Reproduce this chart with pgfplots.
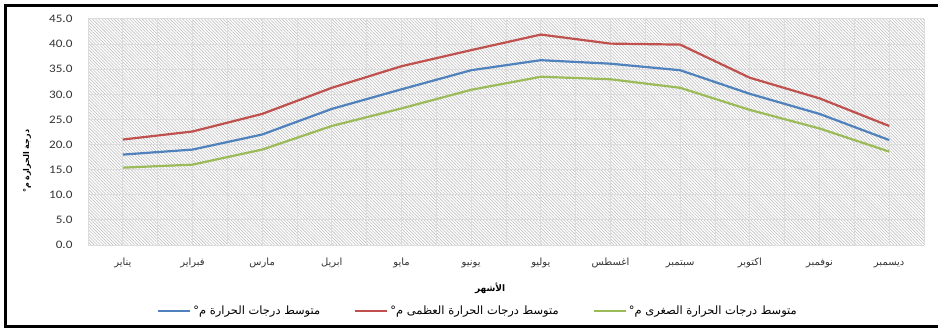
\documentclass[border=0pt]{standalone}
\usepackage{fontspec}
\setmainfont{Carlito}
\newfontfamily\ticknumfont[FakeStretch=1.15]{Carlito}
\newfontfamily\arabicfont[Script=Arabic]{DejaVu Sans}
\TeXXeTstate=1
\usepackage{pgfplots}
\pgfplotsset{compat=1.18}
\usetikzlibrary{patterns.meta}

\definecolor{meanblue}{HTML}{4F81BD}
\definecolor{maxred}{HTML}{C0504D}
\definecolor{mingreen}{HTML}{9BBB59}
\definecolor{gridgray}{HTML}{DCDCDC}
\definecolor{labelgray}{HTML}{333333}

% month index, mean, max, min temperature (deg C)
\pgfplotstableread{
m  mean  tmax  tmin
1  18.0  21.0  15.4
2  19.0  22.6  16.0
3  22.0  26.1  19.0
4  27.1  31.3  23.7
5  31.0  35.6  27.2
6  34.8  38.8  30.9
7  36.8  41.9  33.5
8  36.1  40.1  33.0
9  34.8  39.9  31.3
10 30.1  33.3  26.9
11 26.1  29.2  23.2
12 20.9  23.7  18.6
}\temps

\begin{document}
\begin{tikzpicture}
\useasboundingbox (0,0) rectangle (938bp,328bp);
\begin{axis}[
  at={(88bp,83bp)}, anchor=south west,
  scale only axis, width=836bp, height=226bp,
  xmin=0.5, xmax=12.5, ymin=0, ymax=45,
  xtick={1,...,12}, minor xtick={0.5,1.5,...,12.5},
  ytick={0,5,...,45},
  xticklabels={{\arabicfont\beginR يناير\endR},{\arabicfont\beginR فبراير\endR},{\arabicfont\beginR مارس\endR},{\arabicfont\beginR ابريل\endR},{\arabicfont\beginR مايو\endR},{\arabicfont\beginR يونيو\endR},{\arabicfont\beginR يوليو\endR},{\arabicfont\beginR اغسطس\endR},{\arabicfont\beginR سبتمبر\endR},{\arabicfont\beginR اكتوبر\endR},{\arabicfont\beginR نوفمبر\endR},{\arabicfont\beginR ديسمبر\endR}},
  grid=both,
  major grid style={gridgray, line width=1bp},
  minor grid style={gridgray, line width=1bp},
  axis line style={draw=none},
  tick style={draw=none},
  axis background/.style={fill=white, postaction={pattern={Lines[angle=-45,distance=2.2bp,line width=0.6bp]}, pattern color=gray!50}},
  yticklabel style={font=\ticknumfont\fontsize{11.5}{12}\selectfont, text=labelgray, xshift=-12bp, /pgf/number format/.cd, fixed, fixed zerofill, precision=1, assume math mode=true},
  xticklabel style={font=\arabicfont\fontsize{10}{12}\selectfont, text=labelgray, text height=8bp, text depth=3bp, yshift=-9bp},
  xlabel={{\arabicfont\beginR الأشهر\endR}},
  xlabel style={font=\arabicfont\bfseries\fontsize{9}{10}\selectfont, at={(axis description cs:0.481,-0.19)}, anchor=center},
  ylabel={{\arabicfont\beginR درجة الحرارة م°\endR}},
  ylabel style={font=\arabicfont\bfseries\fontsize{8}{10}\selectfont, at={(axis description cs:-0.073,0.37)}, anchor=center},
  legend columns=3,
  legend style={at={(axis description cs:0.4665,-0.292)}, anchor=center, draw=none, fill=none,
    font=\arabicfont\fontsize{11.5}{13}\selectfont,
    /tikz/every even column/.append style={column sep=32bp}},
  legend image code/.code={\draw[#1] (0bp,0bp) -- (32bp,0bp);},
  every axis plot/.append style={line width=2.2bp, line join=round},
]
\addplot[meanblue] table[x=m, y=mean] {\temps};
\addlegendentry{{\arabicfont\beginR متوسط درجات الحرارة م°\endR}}
\addplot[maxred] table[x=m, y=tmax] {\temps};
\addlegendentry{{\arabicfont\beginR متوسط درجات الحرارة العظمى م°\endR}}
\addplot[mingreen] table[x=m, y=tmin] {\temps};
\addlegendentry{{\arabicfont\beginR متوسط درجات الحرارة الصغرى م°\endR}}
\end{axis}
% frame around the chart (left, top and bottom edges)
\draw[line width=3bp] (938bp,322.5bp) -- (5bp,322.5bp) -- (5bp,1.5bp) -- (938bp,1.5bp);
\end{tikzpicture}
\end{document}
